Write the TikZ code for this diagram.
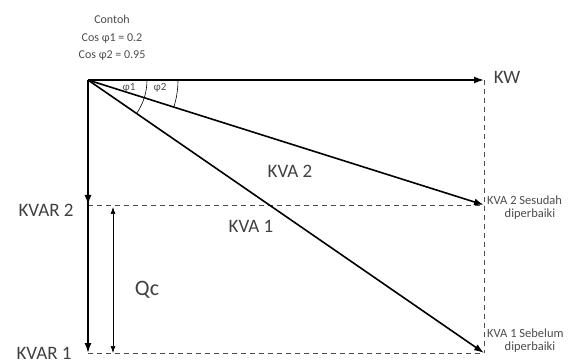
\documentclass[tikz,border=0pt]{standalone}
\usepackage{fontspec}
\setmainfont{Carlito}
\usetikzlibrary{arrows.meta}
\begin{document}
\begin{tikzpicture}[x=1pt,y=-1pt,
  vec/.style={line width=1.6pt,-{Latex[length=10pt,width=7pt]}},
  guide/.style={dashed,dash pattern=on 5pt off 4pt,line width=0.6pt,black!70},
  lbl/.style={font=\fontsize{19}{21}\selectfont,text=black!75,inner sep=0pt},
  small/.style={font=\fontsize{12}{17.5}\selectfont,text=black!70,inner sep=0pt,align=center}]
\useasboundingbox (0,0) rectangle (570,363);
\coordinate (O) at (88,80);
\coordinate (KWe) at (484,80);
\coordinate (K2e) at (484,205);
\coordinate (K1e) at (484,353);
\coordinate (V2) at (88,205);
\coordinate (V1) at (88,353);
\coordinate (Q2) at (113,207);
\coordinate (Q1) at (113,353);
% dashed guides
\draw[guide] (KWe) -- (K1e);
\draw[guide] (V2) -- (K2e);
\draw[guide] (V1) -- (K1e);
% vectors
\draw[vec] (O) -- (KWe);
\draw[vec] (O) -- (K2e);
\draw[vec] (O) -- (K1e);
\draw[vec] (O) -- (V2);
\draw[vec] (O) -- (V1);
\draw[line width=0.7pt,{Latex[length=7pt,width=5pt]}-{Latex[length=7pt,width=5pt]}] (Q2) -- (Q1);
% angle arcs
\draw[line width=0.6pt] (O) ++(0:59) arc[start angle=0,end angle=34.6,radius=59];
\draw[line width=0.6pt] (O) ++(0:90) arc[start angle=0,end angle=17.5,radius=90];
\node[small,font=\fontsize{11}{12}\selectfont] (p1) at (129,88) {φ1};
\node[small,font=\fontsize{11}{12}\selectfont] (p2) at (160,88) {φ2};
% labels
\node[small] (c) at (112,38) {Contoh\\Cos φ1 = 0.2\\Cos φ2 = 0.95};
\node[lbl] (kw) at (507,77) {KW};
\node[lbl] (kva2) at (290,171) {KVA 2};
\node[lbl] (kva1) at (251,226) {KVA 1};
\node[lbl] (kvar2) at (46,210) {KVAR 2};
\node[lbl] (kvar1) at (44,353) {KVAR 1};
\node[font=\fontsize{22}{24}\selectfont,text=black!75,inner sep=0pt] (qc) at (147,290) {Qc};
\node[small,anchor=west,font=\fontsize{12.5}{14}\selectfont] (s2) at (487,200) {KVA 2 Sesudah};
\node[small,font=\fontsize{12.5}{14}\selectfont] (s2b) at (530,214) {diperbaiki};
\node[small,anchor=west,font=\fontsize{12.5}{14}\selectfont] (s1) at (487,333) {KVA 1 Sebelum};
\node[small,font=\fontsize{12.5}{14}\selectfont] (s1b) at (530,347) {diperbaiki};
\end{tikzpicture}
\end{document}
